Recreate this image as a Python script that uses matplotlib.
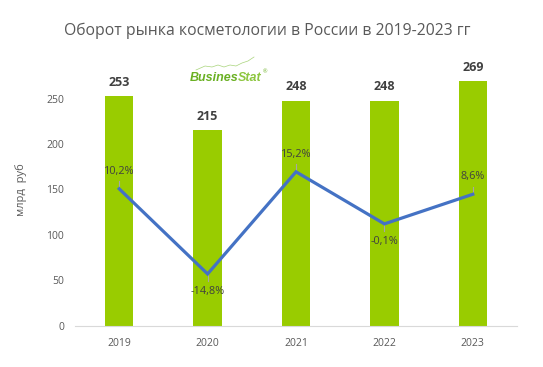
import matplotlib
matplotlib.use("Agg")
import matplotlib.pyplot as plt
import numpy as np

years = ["2019", "2020", "2021", "2022", "2023"]
turnover = [253, 215, 248, 248, 269]
growth = [10.2, -14.8, 15.2, -0.1, 8.6]
growth_labels = ["10,2%", "-14,8%", "15,2%", "-0,1%", "8,6%"]

plt.rcParams['font.family'] = ['Open Sans', 'DejaVu Sans']

fig = plt.figure(figsize=(5.43, 3.67), dpi=100)
ax = fig.add_axes([75/543, 1-325.7/367, 442/543, 272.4/367])
x = np.arange(len(years))
ax.bar(x, turnover, width=0.32, color="#99cc00", zorder=1)
ax.set_xlim(-0.5, 4.5)
ax.set_ylim(0, 300)
ax.set_yticks([0, 50, 100, 150, 200, 250])
ax.set_xticks(x)
ax.set_xticklabels(years)
for s in ["top", "right", "left"]:
    ax.spines[s].set_visible(False)
ax.spines["bottom"].set_color("#d9d9d9")
ax.tick_params(axis="both", length=0, labelsize=7.5, colors="#595959")
ax.tick_params(axis="x", pad=9)
ax.tick_params(axis="y", pad=8)
ax.set_ylabel("млрд  руб", fontsize=8, color="#595959", labelpad=14)

for xi, v in zip(x, turnover):
    ax.annotate(str(v), (xi, v), xytext=(0, 10), textcoords="offset points",
                ha="center", va="center", fontsize=9, fontweight="bold", color="#404040")

ax2 = ax.twinx()
ax2.set_ylim(-30, 50)
ax2.plot(x, growth, color="#4472c4", lw=2.3, zorder=3, solid_joinstyle="miter")
ax2.axis("off")
for xi, g, lab in zip(x, growth, growth_labels):
    sign = 1 if g >= 0 else -1
    ax2.plot([xi, xi], [g, g + sign * 2.2], color="#a6a6a6", lw=0.8, zorder=2)
    ax2.annotate(lab, (xi, g), xytext=(0, sign * 12.5), textcoords="offset points",
                 ha="center", va="center", fontsize=7.8, color="#404040")

fig.text(267/543, 1-31/367, "Оборот рынка косметологии в России в 2019-2023 гг",
         ha="center", va="center", fontsize=11.3, color="#595959")

# logo
logo_font = ["Liberation Sans", "DejaVu Sans"]
t1 = fig.text(190/543, 1-78/367, "Busines", ha="left", va="center", fontsize=9,
              fontweight="bold", style="italic", color="#6ab023", family=logo_font)
t2 = fig.text(0, 0, "Stat", fontsize=9, fontweight="bold", style="italic",
              color="#8dc63f", family=logo_font, ha="left", va="center")
fig.canvas.draw()
r = fig.canvas.get_renderer()
bb = t1.get_window_extent(r)
t2.set_position(((bb.x1 - 0.5) / fig.bbox.width, 1-78/367))
fig.canvas.draw()
bb2 = t2.get_window_extent(r)
fig.text((bb2.x1 + 0.5) / fig.bbox.width, 1-72/367, "®", ha="left", va="center",
         fontsize=4, color="#6ab023")
xs_px = [196, 205, 212, 218, 224, 230, 236, 242, 248, 254]
ys_px = [70, 66, 67, 65, 67, 65, 66, 63, 61, 57]
fig.add_artist(plt.Line2D(np.array(xs_px)/543, 1-np.array(ys_px)/367,
                          color="#a8d47a", lw=0.5))

fig.savefig("out.png", dpi=100)
